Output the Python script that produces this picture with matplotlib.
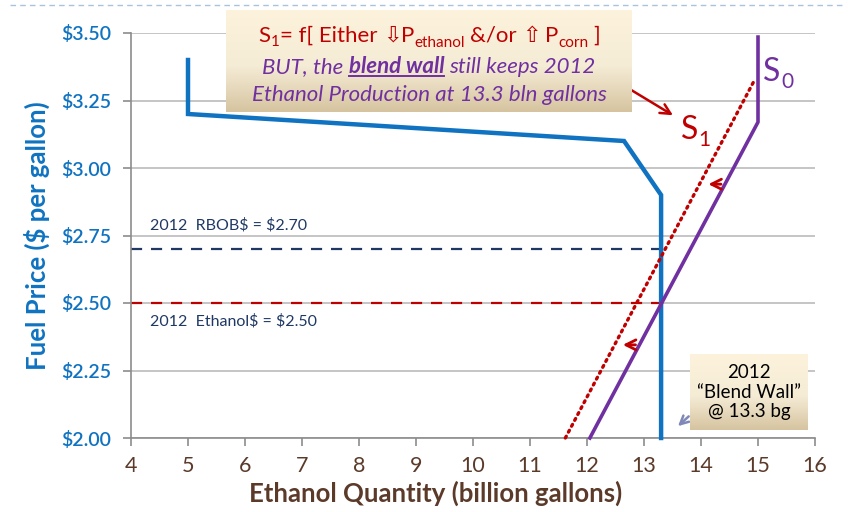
import numpy as np
import matplotlib
matplotlib.use("Agg")
import matplotlib.pyplot as plt
from matplotlib.lines import Line2D

plt.rcParams['font.family'] = ['Lato', 'DejaVu Sans']

# demand curve (blue) and the two supply curves
demand_q = [5.0, 5.0, 12.65, 13.3, 13.3]
demand_p = [3.40, 3.20, 3.10, 2.90, 2.00]
s0_q = [12.05, 15.0, 15.0]
s0_p = [2.00, 3.17, 3.485]
s1_q = [11.62, 14.95]
s1_p = [2.00, 3.33]

# reference prices for 2012
rbob_price = 2.70
ethanol_price = 2.50
blend_wall = 13.3

x_ticks = list(range(4, 17))
y_ticks = [2.00, 2.25, 2.50, 2.75, 3.00, 3.25, 3.50]
y_ticklabels = ['$%.2f' % v for v in y_ticks]

BLUE = '#0f73c1'
PURPLE = '#7030a0'
RED = '#c00000'
NAVY = '#1f3864'
BROWN = '#5b3a2a'
GRID = '#c0c0c0'

W, H = 848, 512
fig = plt.figure(figsize=(W / 100, H / 100), dpi=100)
ax = fig.add_axes([131 / W, 1 - 438 / H, 684 / W, 405 / H])

# dashed rule along the top of the slide
fig.add_artist(Line2D([10 / W, 845 / W], [1 - 5 / H, 1 - 5 / H],
                      color='#a9c3de', lw=1.0, dashes=(4, 3)))

ax.set_xlim(4, 16)
ax.set_ylim(2.0, 3.5)
ax.set_xticks(x_ticks)
ax.set_yticks(y_ticks)
ax.set_yticklabels(y_ticklabels)
ax.grid(axis='y', color=GRID, linewidth=1.3)
ax.set_axisbelow(True)
for side in ['top', 'right']:
    ax.spines[side].set_visible(False)
for side in ['left', 'bottom']:
    ax.spines[side].set_color('#8c8c8c')
    ax.spines[side].set_linewidth(1.2)
ax.tick_params(axis='both', direction='out', length=6, color='#8c8c8c', width=1.2)
ax.tick_params(axis='y', labelsize=14, labelcolor=BLUE, pad=8)
ax.tick_params(axis='x', labelsize=15.5, labelcolor=BROWN, pad=7)
for lab in ax.get_yticklabels():
    lab.set_fontweight('semibold')
ax.set_ylabel('Fuel Price ($ per gallon)', color=BLUE, fontsize=18.5,
              fontweight='bold', labelpad=8)
ax.set_xlabel('Ethanol Quantity (billion gallons)', color=BROWN, fontsize=18.5,
              fontweight='bold')
ax.xaxis.set_label_coords(0.445, -0.105)

# price reference lines stop at the blend wall
ax.plot([4, blend_wall], [rbob_price, rbob_price], color=NAVY, lw=1.6,
        dashes=(5, 4))
ax.plot([4, blend_wall], [ethanol_price, ethanol_price], color=RED, lw=1.6,
        dashes=(5, 4))
ax.text(4.33, rbob_price + 0.06, r'2012  RBOB\$ = \$2.70', color=NAVY,
        fontsize=11.5, va='bottom')
ax.text(4.33, ethanol_price - 0.04, r'2012  Ethanol\$ = \$2.50', color=NAVY,
        fontsize=11.5, va='top')

ax.plot(demand_q, demand_p, color=BLUE, lw=3.2, solid_joinstyle='miter',
        clip_on=False, zorder=3)
ax.plot(s0_q, s0_p, color=PURPLE, lw=2.6, clip_on=False, zorder=3)
ax.plot(s1_q, s1_p, color=RED, lw=2.4, linestyle=(0, (0.6, 1.4)),
        dash_capstyle='round', clip_on=False, zorder=3)

ax.text(15.4, 3.355, 'S', color=PURPLE, fontsize=23, ha='right', va='center')
ax.text(15.41, 3.32, '0', color=PURPLE, fontsize=15, ha='left', va='center')
ax.text(13.95, 3.14, 'S', color=RED, fontsize=23, ha='right', va='center')
ax.text(13.96, 3.105, '1', color=RED, fontsize=15, ha='left', va='center')

# shift arrows between S0 and S1
arrow_kw = dict(arrowstyle='->', color=RED, lw=2.0, mutation_scale=18)
ax.annotate('', xy=(14.08, 2.94), xytext=(14.4, 2.94), arrowprops=arrow_kw)
ax.annotate('', xy=(12.58, 2.345), xytext=(12.9, 2.345), arrowprops=arrow_kw)
ax.annotate('', xy=(13.55, 3.19), xytext=(12.72, 3.296),
            arrowprops=dict(arrowstyle='->', color=RED, lw=1.8,
                            mutation_scale=18))
ax.annotate('', xy=(13.56, 2.037), xytext=(13.82, 2.087),
            arrowprops=dict(arrowstyle='->', color='#8088b8', lw=1.8,
                            mutation_scale=15))


def gradient_box(left, top, right, bottom):
    bx = fig.add_axes([left / W, 1 - bottom / H, (right - left) / W,
                       (bottom - top) / H], zorder=4)
    top_c = np.array([253, 243, 220]) / 255
    mid_c = np.array([245, 236, 214]) / 255
    bot_c = np.array([214, 196, 160]) / 255
    t = np.linspace(0, 1, 100)[:, None]
    col = np.where(t < 0.55, top_c + (mid_c - top_c) * (t / 0.55),
                   mid_c + (bot_c - mid_c) * ((t - 0.55) / 0.45))
    bx.imshow(col[:, None, :], aspect='auto', extent=[0, 1, 0, 1])
    bx.set_axis_off()
    return bx


gradient_box(226, 10, 632, 112)
gradient_box(690, 354, 808, 430)

fig.canvas.draw()
renderer = fig.canvas.get_renderer()


def text_runs(cx, base_y, pieces):
    # lay out a row of differently styled strings, centred on cx (pixels)
    items = []
    for s, kw, dy, gap in pieces:
        t = fig.text(0, 0, s, va='baseline', zorder=6, **kw)
        items.append((t, dy, gap))
    widths = [t.get_window_extent(renderer).width for t, _, _ in items]
    total = sum(widths) + sum(g for _, _, g in items)
    x = cx - total / 2
    spans = []
    for (t, dy, gap), w in zip(items, widths):
        x += gap
        t.set_position((x / W, 1 - (base_y - dy) / H))
        spans.append((x, x + w))
        x += w
    return spans


red = dict(color=RED, fontsize=16)
red_sub = dict(color=RED, fontsize=11)
text_runs(429, 42, [
    ('S', red, 0, 0), ('1', red_sub, -4, 0), ('= f[ Either', red, 0, 1),
    ('⇩', red, 0, 5), ('P', red, 0, 0), ('ethanol', red_sub, -5, 0),
    ('&/or', red, 0, 5), ('⇧', red, 0, 5), ('P', red, 0, 5),
    ('corn', red_sub, -5, 0), (']', red, 0, 4)])

pur = dict(color=PURPLE, fontsize=16, style='italic')
pur_b = dict(color=PURPLE, fontsize=16, style='italic', weight='bold')
spans = text_runs(429, 73, [
    ('BUT, the', pur, 0, 0), ('blend wall', pur_b, 0, 5),
    ('still keeps 2012', pur, 0, 5)])
x0, x1 = spans[1]
fig.add_artist(Line2D([x0 / W, x1 / W], [1 - 76 / H, 1 - 76 / H],
                      color=PURPLE, lw=1.4, zorder=6))
text_runs(429, 101, [('Ethanol Production at 13.3 bln gallons', pur, 0, 0)])

fig.text(749 / W, 1 - 392 / H, '2012\n\u201cBlend Wall\u201d\n@ 13.3 bg',
         ha='center', va='center', fontsize=13.5, color='black',
         linespacing=1.2, zorder=6)

fig.savefig('out.png', dpi=100)
